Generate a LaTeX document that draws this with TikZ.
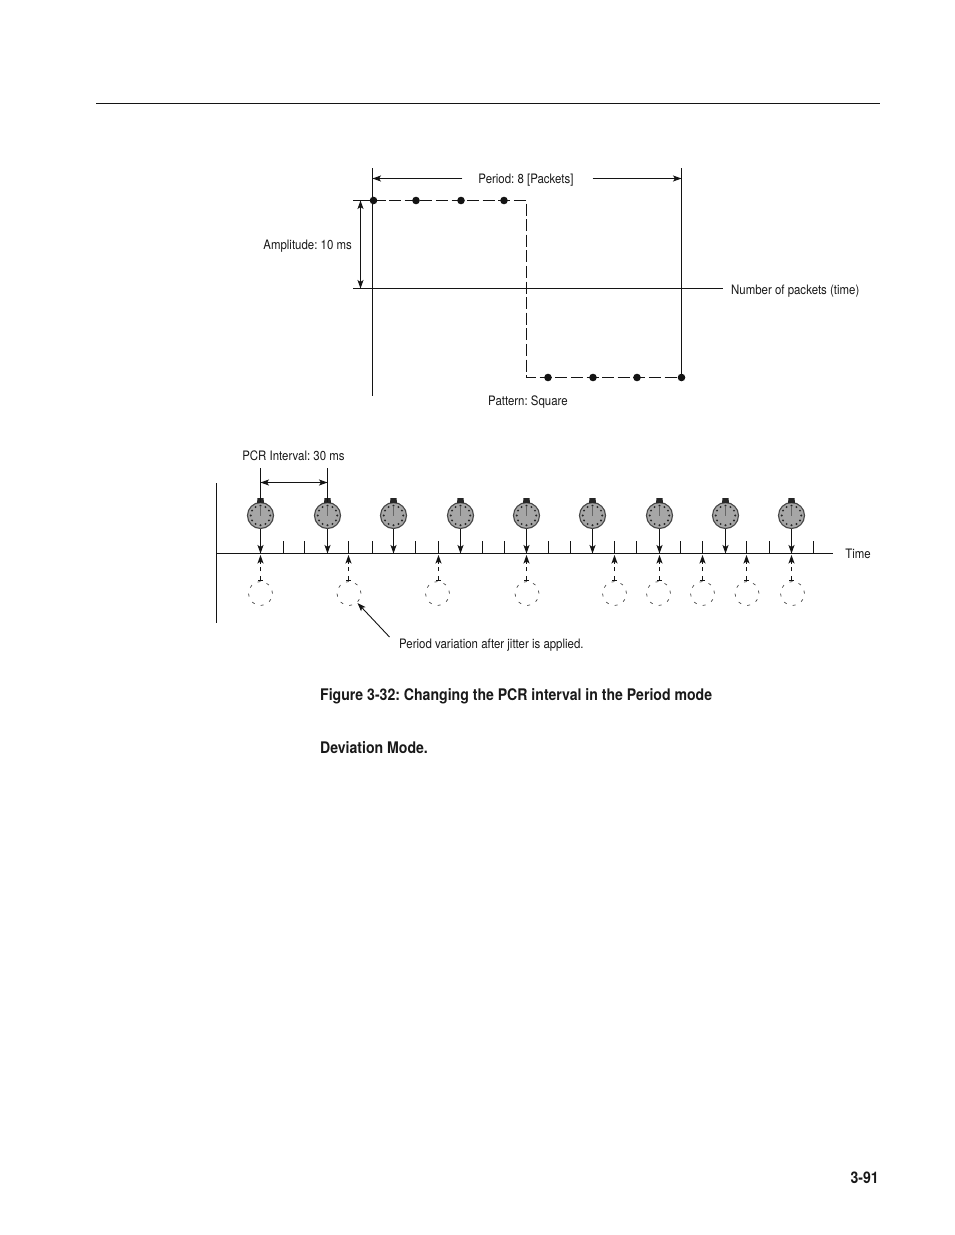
\documentclass[tikz,border=0pt]{standalone}
\usepackage{fontspec}
\setmainfont{TeX Gyre Heros}[FakeStretch=0.88]
\usetikzlibrary{arrows.meta,calc}
\tikzset{
  x=1pt,y=-1pt,
  line/.style={draw=black!92,line width=1pt},
  fine/.style={draw=black!92,line width=0.9pt},
  arr/.style={fine,-{Stealth[length=8.5pt,width=6pt,inset=2pt]}},
  darr/.style={fine,{Stealth[length=8.5pt,width=6pt,inset=2pt]}-{Stealth[length=8.5pt,width=6pt,inset=2pt]}},
  wave/.style={draw=black!92,line width=1pt,dash pattern=on 12pt off 3.6pt},
  dot/.style={circle,fill=black!92,inner sep=0pt,minimum size=7.6pt},
  lab/.style={font=\fontsize{13}{15}\selectfont\frenchspacing,inner sep=0pt,text=black!90},
  head/.style={font=\fontsize{16}{19}\selectfont\bfseries\frenchspacing,inner sep=0pt,anchor=west,text=black!90},
  clockface/.style={circle,draw=black!72,line width=1.1pt,fill=black!35,minimum size=26pt,inner sep=0pt},
  ghost/.style={circle,draw=black!70,line width=0.7pt,dash pattern=on 3pt off 6.4pt,minimum size=24pt,inner sep=0pt},
  dashup/.style={fine,dash pattern=on 4.5pt off 4.5pt}
}
\begin{document}
\begin{tikzpicture}
\useasboundingbox[fill=white] (0,0) rectangle (954,1235);
% page rule
\coordinate (ruleL) at (96,103.5); \coordinate (ruleR) at (880,103.5);
\draw[line] (ruleL) -- (ruleR);
% upper plot
\coordinate (leftT) at (372.5,168); \coordinate (leftB) at (372.5,396);
\coordinate (rightT) at (681.5,168);
\coordinate (zeroL) at (353,288.5); \coordinate (zeroR) at (723,288.5);
\coordinate (topL) at (353,200.5); \coordinate (corner1) at (526.5,200.5);
\coordinate (corner2) at (526.5,377.5);
\coordinate (ampT) at (360.5,200.5); \coordinate (ampB) at (360.5,288.5);
\coordinate (perL) at (372.5,178.5); \coordinate (perR) at (681.5,178.5);
\foreach \n/\x/\y in {a/373.5/200.5,b/416/200.5,c/461/200.5,d/504/200.5,e/548/377.5,f/593/377.5,g/637/377.5,h/681.5/377.5}
  \node[dot] (\n) at (\x,\y) {};
\draw[line] (leftT) -- (leftB);
\draw[line] (rightT) -- (h.center);
\draw[line] (zeroL) -- (zeroR);
\draw[line] (topL) -- (a.center);
\draw[wave] (a.center) -- (corner1) -- (corner2) -- (h.center);
\draw[darr] (ampT) -- (ampB);
\node[lab] (period) at (526,180) {Period: 8 [Packets]};
\coordinate (perA) at ([xshift=-16pt]period.west);
\coordinate (perB) at ([xshift=19pt]period.east);
\draw[arr] (perA |- perL) -- (perL);
\draw[arr] (perB |- perR) -- (perR);
\node[lab,anchor=east] (amp) at (352,246) {Amplitude: 10 ms};
\node[lab,anchor=west] (num) at (731,291) {Number of packets (time)};
\node[lab] (pat) at (528,402.5) {Pattern: Square};
% lower plot
\node[lab] (pcr) at (293.5,455.5) {PCR Interval: 30 ms};
\coordinate (vT) at (216.5,483); \coordinate (vB) at (216.5,623);
\coordinate (axL) at (216.5,553.5); \coordinate (axR) at (833,553.5);
\draw[line] (vT) -- (vB);
\draw[line] (axL) -- (axR);
\node[lab] (time) at (858,553.5) {Time};
\foreach \x in {283,304,348,372,415,438,482,504,548,570,614,636,680,702,746,769,813}{
  \coordinate (tk\x) at (\x+.5,541);
  \coordinate (tb\x) at (\x+.5,553.5);
  \draw[line] (tk\x) -- (tb\x);
}
\foreach \i/\x in {1/260.5,2/327.5,3/393.5,4/460.5,5/526.5,6/592.5,7/659.5,8/725.5,9/791.5}{
  \node[clockface] (clk\i) at (\x,515.5) {};
  \fill[black!85] (\x-3,498) -- (\x+3,498) -- (\x+3.5,503) -- (\x-3.5,503) -- cycle;
  \foreach \a in {0,30,...,330}
    \fill[black!85] ($(clk\i)+(\a:9.8pt)$) circle (1.1pt);
  \draw[draw=black!60,line width=1pt] (clk\i.center) -- ++(0,-10);
  \coordinate (ax\i) at (\x,553.5);
  \draw[arr] (clk\i.south) -- (ax\i);
}
\coordinate (st1) at (260.5,468); \coordinate (st2) at (327.5,468);
\draw[line] (st1) -- (clk1.north);
\draw[line] (st2) -- (clk2.north);
\coordinate (intL) at (260.5,482.5); \coordinate (intR) at (327.5,482.5);
\draw[darr] (intL) -- (intR);
\foreach \i/\x/\g in {1/260.5/260.5,2/348.5/349,3/438.5/437.5,4/526.5/527,5/614.5/614.5,6/659.5/658.5,7/702.5/702.5,8/746.5/747,9/791.5/792.5}{
  \node[ghost] (gh\i) at (\g,593.5) {};
  \coordinate (up\i) at (\x,555);
  \coordinate (dn\i) at (\x,580);
  \draw[dashup] (dn\i) -- (\x,566.5);
  \draw[arr] (\x,563.5) -- (up\i);
  \draw[fine] (\x-2.5,580) -- (\x+2.5,580);
}
\node[lab,anchor=west] (var) at (399,645) {Period variation after jitter is applied.};
\coordinate (varS) at (389.5,637);
\coordinate (varE) at (357.5,603);
\draw[arr] (varS) -- (varE);
% page text
\node[head] (cap) at (320,696.5) {Figure 3-32: Changing the PCR interval in the Period mode};
\node[head] (dev) at (320,748) {Deviation Mode.};
\node[head,anchor=east] (pg) at (879,1178) {3-91};
\end{tikzpicture}
\end{document}
